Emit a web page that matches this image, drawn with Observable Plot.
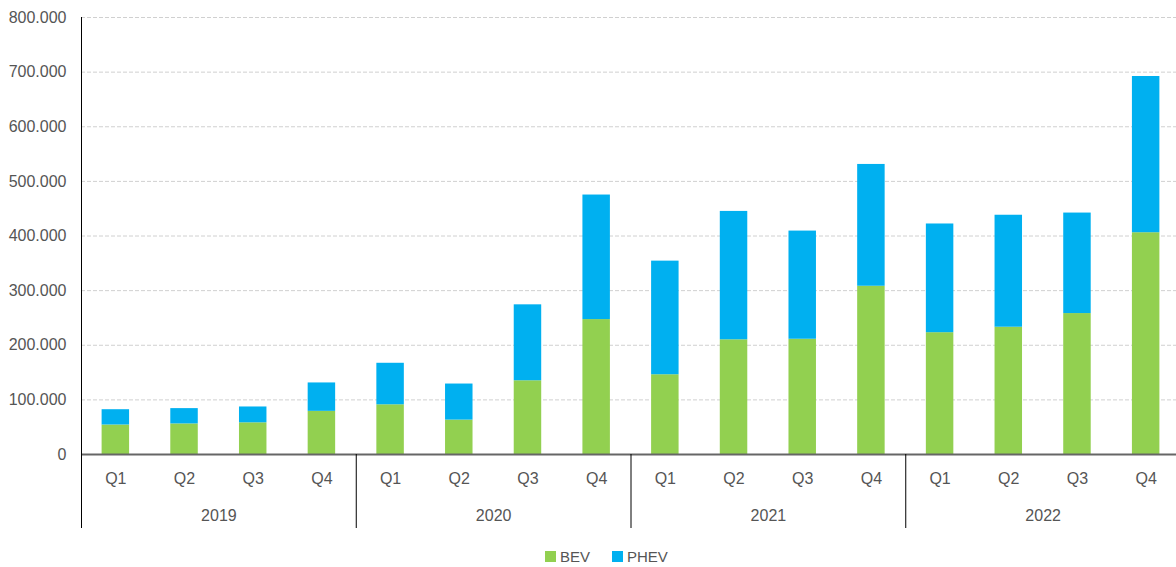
<!DOCTYPE html>
<html>
<head>
<meta charset="utf-8">
<script src="https://cdn.jsdelivr.net/npm/d3@7"></script>
<script src="https://cdn.jsdelivr.net/npm/@observablehq/plot@0.6"></script>
<style>
  body { margin: 0; background: #fff; font-family: "Liberation Sans", Arial, sans-serif; overflow: hidden; }
  #legend { display: flex; align-items: center; margin-left: 545px; margin-top: 8px; font-size: 15px; color: #555; }
  .item { display: flex; align-items: center; margin-right: 22px; }
  .sw { width: 11px; height: 11px; margin-right: 4px; }
</style>
</head>
<body>
<div id="chart"></div>
<div id="legend"></div>
<script>
const years = ["2019", "2020", "2021", "2022"];
const quarters = ["Q1", "Q2", "Q3", "Q4"];
const series = ["BEV", "PHEV"];
const colors = ["#92D050", "#00B0F0"];
const yTicks = [0, 100000, 200000, 300000, 400000, 500000, 600000, 700000, 800000];
const bev  = [54000, 56000, 58000, 79000,  91000, 63000, 135000, 247000,  146000, 210000, 211000, 308000,  223000, 233000, 258000, 406000];
const phev = [28000, 28000, 29000, 52000,  76000, 66000, 139000, 228000,  208000, 235000, 198000, 223000,  199000, 205000, 184000, 286000];

const keys = years.flatMap(y => quarters.map(q => y + " " + q));
const data = [];
keys.forEach((k, i) => {
  data.push({key: k, series: "BEV", value: bev[i]});
  data.push({key: k, series: "PHEV", value: phev[i]});
});

const W = 1176, H = 540, mT = 17, mB = 86, mL = 81, mR = 0;
const xRange = [mL, W + 4];
const step = (xRange[1] - xRange[0]) / keys.length;
const frameH = H - mT - mB;
const fmt = d => d3.format(",")(d).replace(/,/g, ".");

const chart = Plot.plot({
  width: W, height: H,
  marginTop: mT, marginBottom: mB, marginLeft: mL, marginRight: mR,
  style: {fontFamily: "'Liberation Sans', Arial, sans-serif", fontSize: "16px", color: "#555", background: "#fff", overflow: "hidden"},
  x: {domain: keys, range: xRange, paddingInner: 0.6, paddingOuter: 0.3, round: false, axis: null, label: null},
  y: {domain: [0, 800000], axis: null, label: null},
  color: {domain: series, range: colors},
  marks: [
    Plot.gridY(yTicks.slice(1), {stroke: "#d0d0d0", strokeOpacity: 1, strokeDasharray: "4,2"}),
    Plot.axisY(yTicks, {tickSize: 0, tickPadding: 15, tickFormat: fmt, fill: "#555", label: null}),
    Plot.barY(data, {x: "key", y: "value", fill: "series", order: series}),
    Plot.ruleY([0], {stroke: "#666", strokeWidth: 2}),
    Plot.axisX(keys, {tickSize: 0, tickPadding: 18, tickFormat: d => d.split(" ")[1], fill: "#555", label: null}),
    Plot.text(years, {x: d => d + " Q2", text: d => d, frameAnchor: "bottom", lineAnchor: "top", dx: step / 2, dy: 55, fill: "#555"}),
    Plot.ruleX([keys[0]], {dx: -step / 2, insetBottom: -74, stroke: "#000"}),
    Plot.ruleX(years.slice(1).map(y => y + " Q1"), {dx: -step / 2, insetTop: frameH, insetBottom: -74, stroke: "#000"})
  ]
});
document.getElementById("chart").appendChild(chart);

const legend = document.getElementById("legend");
series.forEach((s, i) => {
  const item = document.createElement("div");
  item.className = "item";
  const sw = document.createElement("div");
  sw.className = "sw";
  sw.style.background = colors[i];
  const t = document.createElement("span");
  t.textContent = s;
  item.appendChild(sw);
  item.appendChild(t);
  legend.appendChild(item);
});
</script>
</body>
</html>
